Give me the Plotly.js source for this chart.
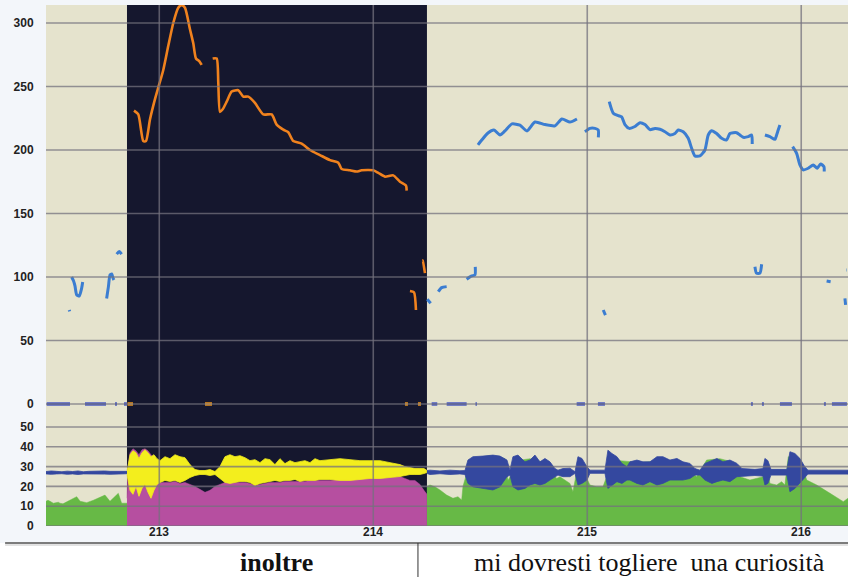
<!DOCTYPE html>
<html>
<head>
<meta charset="utf-8">
<script src="https://cdn.plot.ly/plotly-3.0.1.min.js"></script>
<style>html,body{margin:0;padding:0;background:#f3f6fa;}#chart{width:848px;height:577px;}</style>
</head>
<body>
<div id="chart"></div>
<script>
// ---------- axis ticks ----------
const xTicks = [213, 214, 215, 216];
const pitchTicks = [0, 50, 100, 150, 200, 250, 300];
const intTicks = [0, 10, 20, 30, 40, 50];
const darkStart = 212.8491, darkEnd = 214.2509;

// ---------- pitch (Hz), highlighted word (orange) ----------
const pitchOrangeT = [212.8818,212.9019,212.9252,212.9378,212.9565,212.9799,212.9986,213.0187,213.0421,213.0654,213.0888,213.1047,213.1201,213.1434,213.1589,213.1715,213.1869,213.1981,null,
 213.2495,213.2682,213.2757,213.2836,213.2963,213.3150,213.3383,213.3692,213.3926,213.4159,213.4472,213.4860,213.5253,213.5486,213.5795,213.6028,213.6262,213.6654,213.7042,213.7509,213.7977,213.8365,213.8524,213.8911,213.9224,213.9458,214.0000,214.0234,214.0547,214.0935,214.1248,214.1528,214.1561,null,
 214.1715,214.1902,214.1995,null,
 214.2290,214.2308,214.2416];
const pitchOrangeV = [231,228,207,207,224,240,251,263,282,300,312,314,312,295,284,272,270,267,null,
 272,272,253,230,232,238,246,247,242,242,237,228,228,220,216,214,207,205,200,196,192,190,185,184,183,184,184,182,179,180,175,172,168,null,
 89,88,74,null,
 113,113,103];

// ---------- pitch (Hz), context (blue) ----------
const pitchBlueT = [212.5794,212.5810,null,
 212.5906,212.5990,212.6060,212.6140,212.6260,212.6370,212.6420,null,
 212.7540,212.7620,212.7700,212.7780,212.7840,212.7880,null,
 212.8010,212.8130,212.8240,null,
 214.2523,214.2682,null,
 214.3037,214.3196,214.3430,null,
 214.4364,214.4598,214.4752,214.4767,null,
 214.4893,214.5080,214.5360,214.5640,214.5920,214.6154,214.6481,214.6855,214.7182,214.7556,214.8023,214.8490,214.8818,214.9191,214.9519,null,
 214.9893,215.0126,215.0360,215.0514,215.0519,null,
 215.0748,215.0850,null,
 215.1028,215.1215,215.1449,215.1608,215.1762,215.1963,215.2229,215.2463,215.2697,215.2930,215.3164,215.3397,215.3631,215.3865,215.4098,215.4252,215.4486,215.4720,215.4879,215.5033,215.5266,215.5500,215.5654,215.5813,215.6047,215.6280,215.6514,215.6668,215.6981,215.7135,215.7289,215.7523,215.7682,215.7710,null,
 215.7837,215.7908,215.8071,215.8150,null,
 215.8304,215.8537,215.8771,215.8850,215.8925,215.9005,null,
 215.9598,215.9785,215.9939,216.0093,216.0327,216.0561,216.0748,216.0907,216.1061,216.1075,null,
 216.1187,216.1374,null,
 216.2042,216.2075,null,
 216.2110,216.2130];
const pitchBlueV = [74,73,null,
 100,97,93,86,85,91,96,null,
 83,92,101.6,102.4,99,97.6,null,
 118,120,118,null,
 82.4,79.3,null,
 88.4,91.6,92.4,null,
 98.2,100.8,101.6,108,null,
 204,208,213.4,215.7,211.8,215,220.5,219.5,215,222,220,219,224.4,222,224.4,null,
 214.4,217,217,215.7,210,null,
 74,70,null,
 238,229,227,226,220,217,218.5,221.5,220,216,217,216.3,214.4,211.8,213,215.7,214.4,209.2,201.3,195.3,195.3,200,211.8,215.2,213,209.2,207.9,213,213.6,211.8,210,210.5,211.8,204.7,null,
 108,103,103,110,null,
 211.8,210.5,208.4,211.8,215.7,219.7,null,
 202.6,197.4,188.2,184.3,185.6,188.2,185.6,189,186.9,183,null,
 96.9,96.3,null,
 83.2,78,null,
 105.5,105.5];

// ---------- unvoiced frames (pitch = 0) ----------
const zeroBlueT = [212.4738,212.5827,null,212.6528,212.7509,null,212.7930,212.8023,null,212.8351,212.8491,null,
 214.2729,214.2991,null,214.3430,214.4364,null,214.4776,214.4846,null,214.9505,214.9893,null,215.0500,215.0827,null,
 215.7649,215.7743,null,215.8164,215.8257,null,215.9005,215.9566,null,216.1061,216.1154,null,216.1435,216.2136];
const zeroBlueV = [0,0,null,0,0,null,0,0,null,0,0,null,0,0,null,0,0,null,0,0,null,0,0,null,0,0,null,0,0,null,0,0,null,0,0,null,0,0,null,0,0];
const zeroOrangeT = [212.8514,212.8771,null,213.2135,213.2463,null,214.1481,214.1621,null,214.2089,214.2229];
const zeroOrangeV = [0,0,null,0,0,null,0,0,null,0,0];

// ---------- intensity (dB) ----------
const intLeftT = [212.4706,212.4800,212.4893,212.5049,212.5282,212.5360,212.5500,212.5720,212.6140,212.6300,212.6608,212.6920,212.7229,212.7462,212.7696,212.8010,212.8085,212.8240,212.8491];
const intLeftV = [12.5,13,12.5,11.5,12,11.5,11.2,12.5,14.8,12.5,11.8,13,14.5,15.6,12.5,15.6,16.5,11.5,11.5];

const intMidT = [212.8491,212.8537,212.8631,212.8771,212.8911,212.9051,212.9192,212.9332,212.9472,212.9612,212.9752,212.9893,213.0033,213.0266,213.0500,213.0734,213.0967,213.1201,213.1434,213.1668,213.1902,213.2135,213.2369,213.2603,213.2836,213.3070,213.3304,213.3537,213.3771,213.4005,213.4238,213.4472,213.4706,213.4939,213.5173,213.5406,213.5640,213.5874,213.6107,213.6341,213.6575,213.6808,213.7042,213.7276,213.7509,213.7977,213.8444,213.8911,213.9378,213.9846,214.0313,214.0780,214.1248,214.1481,214.1715,214.1948,214.2182,214.2369,214.2509];
const intMidV = [14,30,37,39,38,36,38.5,39,38,36,34,33,22,22,22,22.5,21.5,22,21,20,18.5,17,18,20,21,22,22,22,22,22,21.5,20.5,21,21.5,22,22,22,22.5,22.5,22.5,22.5,22.5,23,23,23,23,23.5,23.5,24,24,24.5,24.5,25,24,23,23,21,18,16];

const intRightT = [214.2509,214.2650,214.2883,214.3117,214.3430,214.3725,214.3959,214.4132,214.4192,214.4365,214.4519,214.4752,214.5453,214.6154,214.6295,214.6481,214.6715,214.7323,214.8023,214.8570,214.8725,214.8865,214.9192,214.9332,214.9505,214.9799,215.0126,215.0440,215.0734,215.0907,215.1061,215.1528,215.2463,215.3397,215.4332,215.5112,215.5346,215.5580,215.6201,215.6903,215.7135,215.7603,215.8225,215.8384,215.8537,215.8850,215.9084,215.9238,215.9393,215.9939,216.0257,216.0724,216.1346,216.1967,216.2186];
const intRightV = [20,20.7,19.8,18.2,15.6,14,14.8,13.1,20,26.5,30,34,35.5,34,23,26.5,33,34,32,24,24.9,24,21.5,17.3,27.4,28,20.7,19.8,19.8,24.9,36,33,32,33,33,24.9,29,33.3,34,32,24.9,23.2,24.9,33,21.5,20.7,22.4,20.7,35,34,23.2,20.7,16.5,12.3,14];

// ---------- waveform envelope (upper / lower, same scale) ----------
const waveLeftT = [212.4706,212.4950,212.5200,212.5450,212.5700,212.5950,212.6200,212.6450,212.6700,212.6950,212.7200,212.7450,212.7700,212.7950,212.8200,212.8491];
const waveLeftUp = [27.5,27.8,27.6,27.4,27.7,27.5,27.8,27.4,27.6,27.7,27.5,27.8,27.6,27.5,27.7,27.6];
const waveLeftLo = [26.3,26.1,26.3,26.4,26.1,26.3,26.0,26.3,26.2,26.1,26.3,26.2,26.1,26.3,26.2,26.4];

const waveMidUp = [28,30,36,38,37,34,37,38.5,37,35,36,34,33,35,34,36,35,34.5,31,28.5,28,28,28.5,27.5,30,35,36,35,35.5,34.5,33,33.5,32,34,33.5,31,34,31.5,33,32,32.5,33,32,34,33,33.5,34,33.5,33,33,33,32,31,30,29.5,29,29,29,28];
const waveMidLo = [26,24,18,16,20,15,19,21,17,14,18,21,22,23,22.5,23,22,23,24.5,25.5,26,26,25.5,26,24,22,21.5,22,22.5,22.5,22,20.5,21.5,22,22.5,23,22.5,23,23,23.5,22.5,23,23,23,23.5,23.5,23,23,23.5,24,24,24.5,25,25.5,26,26,26,26.5,27];

const waveRightT = [214.2509,214.2650,214.3117,214.3584,214.4051,214.4285,214.4425,214.4659,214.5126,214.5593,214.5920,214.6248,214.6388,214.6528,214.6762,214.7089,214.7323,214.7556,214.7790,214.8023,214.8257,214.8490,214.8631,214.8865,214.9192,214.9426,214.9566,214.9753,214.9986,215.0126,215.0827,215.0967,215.1154,215.1388,215.1622,215.1855,215.1995,215.2323,215.2603,215.2930,215.3257,215.3537,215.3865,215.4192,215.4472,215.4799,215.5033,215.5266,215.5500,215.5827,215.6061,215.6341,215.6668,215.6996,215.7229,215.7837,215.8211,215.8304,215.8444,215.8584,215.9332,215.9472,215.9706,215.9939,216.0163,216.0313,216.2186];
const waveRightUp = [28,28.2,27.8,28.2,27.9,28,33.3,35,35.3,35.8,35.3,33.3,28.2,35,35.8,32.4,33.3,35.8,32.4,34.1,32.4,29,28.2,29,29.2,27.4,35,34.1,29.9,28.2,28.2,38.3,36.6,35,31.6,29.9,32.4,33.3,32.4,32.4,35,35,33.3,34.1,32.4,31.6,29,28.2,31.6,33.3,34.1,32.4,33.3,31.6,29,28.6,29,34.1,33,28.6,28.6,37.5,36.6,34.1,30,28.2,28.2];
const waveRightLo = [26.5,26,26.4,26,26.3,26,21.5,19.8,19,18.2,19.8,24.9,25.7,19.8,18.2,19,20.7,21.5,20.7,21.5,23.2,24.9,25.7,24.9,24.9,26.6,20.7,21.5,23.2,26.6,26.6,19,20.7,22.4,21.5,23.2,23.2,21.5,20.7,22.4,20.7,21.5,23.2,23.2,23.2,24,25.7,25.7,23.2,21.5,22.4,23.2,22.4,24.9,25.2,25.5,25.2,20.7,21.5,25.7,25.7,17.3,19,21.5,24.4,26.2,26.2];

// ---------- texts ----------
const wordLeft = 'inoltre';
const wordRight = 'mi dovresti togliere\u00a0 una curiosità';

// ---------- colours ----------
const C = {
  paper:'#f3f6fa', beige:'#e5e3cd', dark:'#15172e', grid:'rgba(116,114,126,0.74)',
  orange:'#f0821e', blue:'#3b7dd1', zeroBlue:'#4b5cc2',
  green:'#67b946', magenta:'#b64fa0', yellow:'#f3ee1d', wave:'#34489f'
};

function band(t, up, lo, color, w) {
  return {x: t.concat(t.slice().reverse()), y: up.concat(lo.slice().reverse()),
    type:'scatter', mode:'lines', fill:'toself', fillcolor:color,
    line:{color:color, width:w}, yaxis:'y2', hoverinfo:'skip', showlegend:false};
}
function area(t, v, color) {
  return {x:t, y:v, type:'scatter', mode:'lines', fill:'tozeroy', fillcolor:color,
    line:{color:color, width:0.5}, yaxis:'y2', hoverinfo:'skip', showlegend:false};
}
function line(t, v, color, w) {
  return {x:t, y:v, type:'scatter', mode:'lines', connectgaps:false,
    line:{color:color, width:w, shape:'spline', smoothing:0.6}, yaxis:'y', hoverinfo:'skip', showlegend:false};
}

const traces = [
  line(pitchBlueT, pitchBlueV, C.blue, 3),
  line(pitchOrangeT, pitchOrangeV, C.orange, 2.6),
  {x:zeroBlueT, y:zeroBlueV, type:'scatter', mode:'lines', line:{color:C.zeroBlue, width:3.5}, yaxis:'y', hoverinfo:'skip', showlegend:false},
  {x:zeroOrangeT, y:zeroOrangeV, type:'scatter', mode:'lines', line:{color:'#e8931e', width:3.5}, yaxis:'y', hoverinfo:'skip', showlegend:false},
  area(intLeftT, intLeftV, C.green),
  area(intMidT, intMidV, C.magenta),
  area(intRightT, intRightV, C.green),
  band(waveLeftT, waveLeftUp, waveLeftLo, C.wave, 0.8),
  band(intMidT, waveMidUp, waveMidLo, C.yellow, 0.8),
  band(waveRightT, waveRightUp, waveRightLo, C.wave, 0.8)
];

const shapes = [
  {type:'rect', xref:'x', yref:'paper', x0:darkStart, x1:darkEnd, y0:0, y1:1, fillcolor:C.dark, line:{width:0}, layer:'below'},
  {type:'rect', xref:'paper', yref:'paper', x0:-0.06, x1:1.01, y0:-0.1, y1:-0.0326, fillcolor:'#ffffff', line:{width:0}, layer:'below'},
  {type:'line', xref:'paper', yref:'paper', x0:-0.051, x1:1.01, y0:-0.0326, y1:-0.0326, line:{color:'#7c7c7c', width:2}},
  {type:'line', xref:'paper', yref:'paper', x0:-0.051, x1:1.01, y0:-0.0365, y1:-0.0365, line:{color:'#d8d8d8', width:1.5}},
  {type:'line', xref:'paper', yref:'paper', x0:0.4638, x1:0.4638, y0:-0.0326, y1:-0.1, line:{color:'#333333', width:1}}
];
pitchTicks.forEach(v => shapes.push({type:'line', xref:'paper', yref:'y', x0:0, x1:1, y0:v, y1:v, line:{color:C.grid, width:1.6}, layer:'above'}));
intTicks.forEach(v => shapes.push({type:'line', xref:'paper', yref:'y2', x0:0, x1:1, y0:v, y1:v, line:{color:C.grid, width:1.6}, layer:'above'}));
xTicks.forEach(v => shapes.push({type:'line', xref:'x', yref:'paper', x0:v, x1:v, y0:0, y1:1, line:{color:C.grid, width:1.6}, layer:'above'}));

const tickFont = {family:'Liberation Sans, Arial, sans-serif', size:12, color:'#222222', weight:'bold'};
const serif = 'Times New Roman, Liberation Serif, serif';

const annotations = [
  {xref:'paper', yref:'paper', x:0.288, y:-0.0705, xanchor:'center', yanchor:'middle', showarrow:false, text:wordLeft,
   font:{family:serif, size:26, color:'#111111', weight:'bold'}},
  {xref:'paper', yref:'paper', x:0.752, y:-0.0705, xanchor:'center', yanchor:'middle', showarrow:false, text:wordRight,
   font:{family:serif, size:26, color:'#111111'}}
];
xTicks.forEach(v => annotations.push({xref:'x', yref:'paper', x:v, y:-0.0115, xanchor:'center', yanchor:'middle',
  showarrow:false, text:String(v), font:tickFont}));

const layout = {
  width:848, height:577,
  margin:{l:46, r:0, t:5, b:51, pad:0},
  paper_bgcolor:C.paper, plot_bgcolor:C.beige,
  showlegend:false,
  xaxis:{range:[212.4706, 216.2186], tickvals:xTicks, showticklabels:false, showgrid:false, zeroline:false,
    ticks:'', showline:false, fixedrange:true},
  yaxis:{range:[-96.07, 314.15], tickvals:pitchTicks, ticktext:pitchTicks.map(String), showgrid:false, zeroline:false,
    ticks:'outside', ticklen:9, tickcolor:'rgba(0,0,0,0)', tickfont:tickFont, showline:false, fixedrange:true},
  yaxis2:{range:[0, 263.1], overlaying:'y', side:'left', anchor:'x', tickvals:intTicks, ticktext:intTicks.map(String),
    showgrid:false, zeroline:false, ticks:'outside', ticklen:9, tickcolor:'rgba(0,0,0,0)', tickfont:tickFont, showline:false, fixedrange:true},
  shapes:shapes,
  annotations:annotations
};

Plotly.newPlot('chart', traces, layout, {displayModeBar:false, staticPlot:true});
</script>
</body>
</html>
